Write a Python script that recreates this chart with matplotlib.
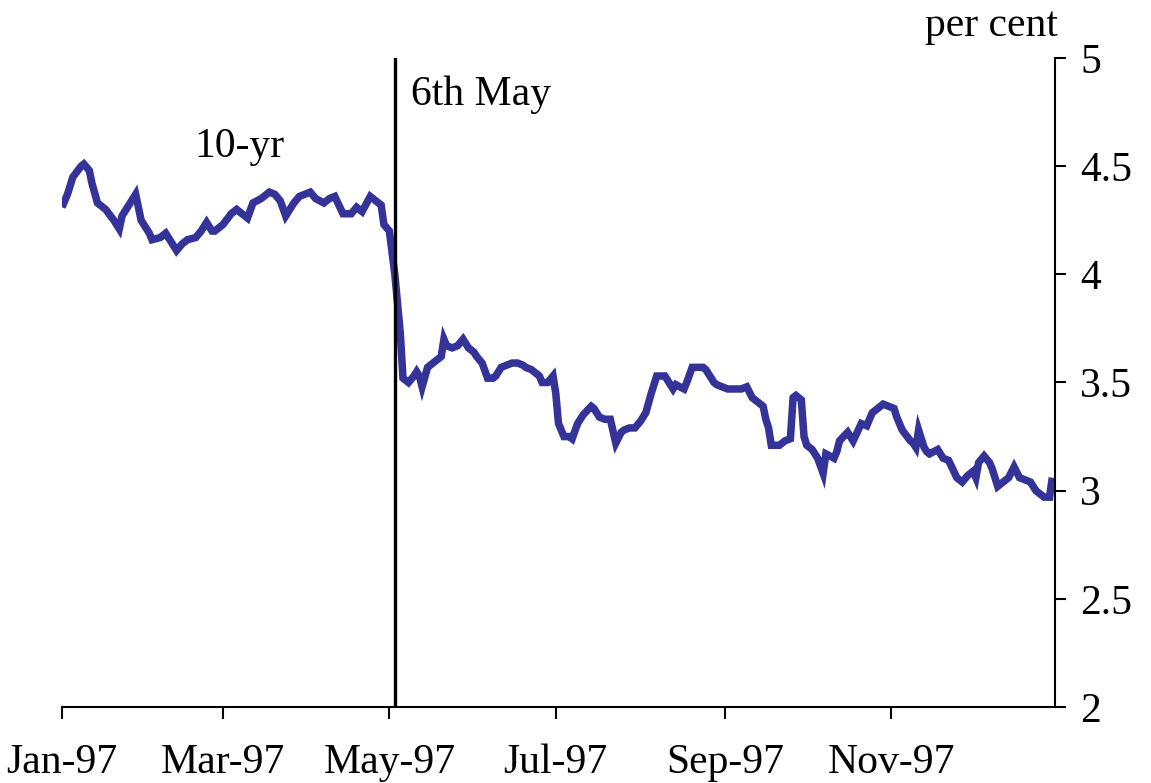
import matplotlib
matplotlib.use("Agg")
import matplotlib.pyplot as plt
import pandas as pd

# Day offsets from 1 Jan 1997 and 10-year yield (per cent)
days = [0, 2, 4, 7, 8, 10, 11, 13, 16, 19, 21, 22, 24, 27, 29, 30, 32, 33, 36, 38,
        40, 42, 44, 46, 49, 51, 53, 55, 56, 59, 62, 64, 68, 70, 73, 76, 78, 80, 82, 85,
        87, 91, 93, 96, 98, 100, 103, 106, 108, 110, 113, 115, 117, 118, 120, 122, 124, 125,
        127, 129, 130, 131, 132, 134, 136, 139, 140, 141, 143, 145, 147, 149, 151, 152, 154,
        156, 158, 159, 161, 163, 165, 167, 169, 170, 172, 174, 175, 176, 178, 180, 181, 182,
        184, 186, 187, 189, 191, 194, 195, 197, 199, 201, 203, 205, 206, 208, 210, 212, 214,
        216, 218, 220, 221, 224, 225, 228, 229, 231, 233, 235, 236, 239, 240, 242, 244, 246,
        249, 251, 253, 255, 257, 258, 259, 260, 261, 263, 265, 267, 268, 269, 271, 272, 273,
        275, 277, 279, 280, 283, 284, 285, 288, 290, 293, 295, 297, 299, 301, 303, 305, 306,
        308, 311, 312, 313, 314, 316, 317, 318, 321, 323, 325, 328, 330, 332, 334, 335, 336,
        338, 340, 341, 343, 345, 347, 349, 351, 353, 355, 357, 360, 362, 363]
yields = [4.31, 4.37, 4.45, 4.50, 4.51, 4.48, 4.42, 4.33, 4.30, 4.25, 4.21, 4.27, 4.31, 4.37, 4.25, 4.23, 4.19, 4.16, 4.17, 4.19,
          4.15, 4.11, 4.14, 4.16, 4.17, 4.20, 4.24, 4.20, 4.20, 4.23, 4.28, 4.30, 4.26, 4.33, 4.35, 4.38, 4.37, 4.34, 4.27, 4.33,
          4.36, 4.38, 4.35, 4.33, 4.35, 4.36, 4.28, 4.28, 4.31, 4.29, 4.36, 4.34, 4.32, 4.23, 4.20, 4.00, 3.73, 3.52,
          3.50, 3.53, 3.55, 3.53, 3.48, 3.57, 3.59, 3.62, 3.70, 3.67, 3.66, 3.67, 3.70, 3.66, 3.64, 3.62, 3.59,
          3.52, 3.52, 3.53, 3.57, 3.58, 3.59, 3.59, 3.58, 3.57, 3.56, 3.54, 3.53, 3.50, 3.50, 3.53, 3.45, 3.31,
          3.25, 3.25, 3.24, 3.31, 3.35, 3.39, 3.38, 3.34, 3.33, 3.33, 3.22, 3.27, 3.28, 3.29, 3.29, 3.32, 3.36,
          3.45, 3.53, 3.53, 3.53, 3.47, 3.49, 3.47, 3.50, 3.57, 3.57, 3.57, 3.56, 3.50, 3.49, 3.48, 3.47, 3.47,
          3.47, 3.48, 3.43, 3.41, 3.39, 3.33, 3.29, 3.21, 3.21, 3.21, 3.23, 3.24, 3.43, 3.44, 3.42, 3.25, 3.21,
          3.19, 3.15, 3.08, 3.17, 3.15, 3.18, 3.23, 3.27, 3.23, 3.31, 3.30, 3.36, 3.38, 3.40, 3.39, 3.38, 3.34,
          3.28, 3.23, 3.22, 3.20, 3.28, 3.20, 3.18, 3.17, 3.19, 3.15, 3.14, 3.06, 3.04, 3.07, 3.09, 3.06, 3.13,
          3.16, 3.13, 3.10, 3.02, 3.04, 3.06, 3.11, 3.06, 3.05, 3.04, 3.00, 2.97, 2.97, 3.06]

tick_dates = ["1997-01-01", "1997-03-01", "1997-05-01", "1997-07-01", "1997-09-01", "1997-11-01"]
tick_labels = ["Jan-97", "Mar-97", "May-97", "Jul-97", "Sep-97", "Nov-97"]
y_ticks = [2, 2.5, 3, 3.5, 4, 4.5, 5]
y_tick_labels = ["2", "2.5", "3", "3.5", "4", "4.5", "5"]
event_date = "1997-05-03"

start = pd.Timestamp("1997-01-01")
dates = [start + pd.Timedelta(days=d) for d in days]

plt.rcParams['font.family'] = ['Liberation Serif', 'DejaVu Serif']
FS = 30

fig = plt.figure(figsize=(11.51, 7.83), dpi=100)
ax = fig.add_axes([62/1151, 1 - 707/783, (1055-62)/1151, (707-58)/783])

ax.plot(dates, yields, color="#333399", lw=5.4, solid_capstyle="butt", solid_joinstyle="miter")
ax.axvline(pd.Timestamp(event_date), color="black", lw=2.4)

ax.set_xlim(pd.Timestamp("1997-01-01"), pd.Timestamp("1997-12-31"))
ax.set_ylim(2, 5)

ax.set_xticks([pd.Timestamp(t) for t in tick_dates])
ax.set_xticklabels(tick_labels, fontsize=FS)
ax.set_yticks(y_ticks)
ax.set_yticklabels(y_tick_labels, fontsize=FS)

ax.yaxis.tick_right()
ax.spines['left'].set_visible(False)
ax.spines['top'].set_visible(False)
for s in ('right', 'bottom'):
    ax.spines[s].set_linewidth(1.5)
ax.tick_params(axis='x', direction='out', length=8.6, width=1.5, pad=18)
ax.tick_params(axis='y', direction='out', length=8, width=1.5, pad=10)

fig.text(1058/1151, 1 - 26/783, "per cent", fontsize=FS, ha="right", va="center")
ax.text(pd.Timestamp("1997-03-07"), 4.59, "10-yr", fontsize=FS, ha="center", va="center")
ax.text(pd.Timestamp("1997-05-09"), 4.83, "6th May", fontsize=FS, ha="left", va="center")

fig.savefig("out.png", dpi=100)
